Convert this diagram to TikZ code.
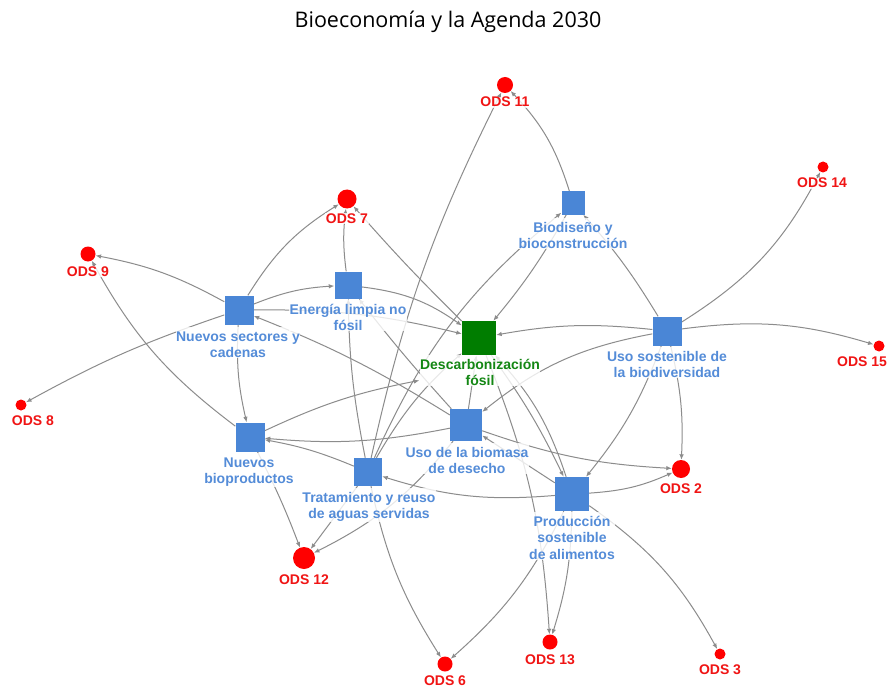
\documentclass[tikz,border=0pt]{standalone}
\usepackage{fontspec}
\usetikzlibrary{arrows.meta}
\newfontfamily\lblfamily{Liberation Sans}
\newfontfamily\titlefamily{Open Sans}
\definecolor{sqblue}{RGB}{74,134,214}
\definecolor{lblblue}{RGB}{84,140,216}
\definecolor{decgreen}{RGB}{0,125,0}
\definecolor{decgreentext}{RGB}{20,135,20}
\definecolor{odsred}{RGB}{255,0,0}
\definecolor{odstext}{RGB}{240,20,20}
\definecolor{edgegray}{RGB}{140,140,140}
% keeps the first line of every label at the same height
\newcommand{\lblstrut}{\rule{0pt}{13.5pt}}
\pgfdeclarelayer{bglayer}
\pgfdeclarelayer{edgelayer}
\pgfsetlayers{bglayer,edgelayer,main}

\begin{document}
\begin{tikzpicture}[x=1pt,y=1pt,
  sq/.style={rectangle, fill=sqblue, minimum size=#1, inner sep=0pt},
  ods/.style={circle, fill=odsred, minimum size=#1, inner sep=0pt},
  lbl/.style={font=\lblfamily\bfseries\fontsize{14}{16.5}\selectfont, text=lblblue,
    align=center, anchor=north, inner sep=0.5pt, fill=white, fill opacity=0.8, text opacity=1},
  odslbl/.style={font=\lblfamily\bfseries\fontsize{14}{16.5}\selectfont, text=odstext,
    anchor=base, inner sep=0.5pt, fill=white, fill opacity=0.8, text opacity=1},
  link/.style={draw=edgegray, line width=1pt, -{Latex[length=5.5pt,width=4.5pt]}},
]
\useasboundingbox (0,0) rectangle (888,-687);
\begin{pgfonlayer}{bglayer}
  \fill[white] (0,0) rectangle (888,-687);
\end{pgfonlayer}

% title
\node[font=\titlefamily\fontsize{21.5}{26}\selectfont, anchor=base, inner sep=0pt] (title) at (448,-28) {Bioeconomía y la Agenda 2030};

% action lines (squares)
\node[sq=23] (biod) at (573,-203) {};
\node[sq=27] (ener) at (348,-285) {};
\node[sq=29] (sect) at (239,-310) {};
\node[sq=34, fill=decgreen] (desc) at (479,-338) {};
\node[sq=29] (usos) at (667,-331) {};
\node[sq=29] (biop) at (250,-437) {};
\node[sq=32] (usob) at (466,-425) {};
\node[sq=28] (trat) at (368,-472) {};
\node[sq=34] (prod) at (572,-494) {};

% goals (circles)
\node[ods=16] (ods11) at (505,-85) {};
\node[ods=19] (ods7) at (347,-199) {};
\node[ods=15] (ods9) at (88,-254) {};
\node[ods=11] (ods14) at (823,-167) {};
\node[ods=11] (ods15) at (879,-346) {};
\node[ods=11] (ods8) at (21,-405) {};
\node[ods=18] (ods2) at (681,-469) {};
\node[ods=22] (ods12) at (304,-558) {};
\node[ods=15] (ods6) at (445,-664) {};
\node[ods=15] (ods13) at (550,-642) {};
\node[ods=11] (ods3) at (720,-654) {};

% labels of the action lines
\node[lbl] (biod-t) at (573,-218) {\lblstrut Biodiseño y\\bioconstrucción};
\node[lbl] (ener-t) at (348,-300) {\lblstrut Energía limpia no\\fósil};
\node[lbl] (sect-t) at (238,-327) {\lblstrut Nuevos sectores y\\cadenas};
\node[lbl, text=decgreentext] (desc-t) at (480,-355) {\lblstrut Descarbonización\\fósil};
\node[lbl] (usos-t) at (667,-347) {\lblstrut Uso sostenible de\\la biodiversidad};
\node[lbl] (biop-t) at (249,-453) {\lblstrut Nuevos\\bioproductos};
\node[lbl] (usob-t) at (467,-443) {\lblstrut Uso de la biomasa\\de desecho};
\node[lbl] (trat-t) at (369,-488) {\lblstrut Tratamiento y reuso\\de aguas servidas};
\node[lbl] (prod-t) at (572,-512) {\lblstrut Producción\\sostenible\\de alimentos};

% labels of the goals
\node[odslbl] (ods11-t) at (505,-107) {ODS 11};
\node[odslbl] (ods7-t) at (347,-223) {ODS 7};
\node[odslbl] (ods9-t) at (88,-276) {ODS 9};
\node[odslbl] (ods14-t) at (822,-188) {ODS 14};
\node[odslbl] (ods15-t) at (862,-366) {ODS 15};
\node[odslbl] (ods8-t) at (33,-425) {ODS 8};
\node[odslbl] (ods2-t) at (681,-493) {ODS 2};
\node[odslbl] (ods12-t) at (304,-584) {ODS 12};
\node[odslbl] (ods6-t) at (445,-685) {ODS 6};
\node[odslbl] (ods13-t) at (550,-664) {ODS 13};
\node[odslbl] (ods3-t) at (720,-674) {ODS 3};

% links
\begin{pgfonlayer}{edgelayer}
\draw[link] (sect) to[bend right=9] (ods9);
\draw[link] (sect) to[bend right=5] (ods8);
\draw[link] (sect) to[bend left=13] (ods7);
\draw[link] (sect) to[bend left=9] (ener);
\draw[link] (sect) to[bend left=7] (desc);
\draw[link] (sect) to[bend right=8] (biop);
\draw[link] (ener) to[bend left=7] (ods7);
\draw[link] (ener) to[bend left=14] (desc);
\draw[link] (desc) to[bend left=2] (ods7);
\draw[link] (trat) to[bend left=7] (ods11);
\draw[link] (biod) to[bend right=13] (ods11);
\draw[link] (usos) to[bend right=5] (biod);
\draw[link] (trat) to[bend left=13] (biod);
\draw[link] (biod) to[bend left=5] (desc);
\draw[link] (usos) to[bend right=8] (desc);
\draw[link] (usos) to[bend right=15] (ods14);
\draw[link] (usos) to[bend left=12] (ods15);
\draw[link] (usos) to[bend right=14] (usob);
\draw[link] (usos) to[bend left=8] (ods2);
\draw[link] (usos) to[bend left=9] (prod);
\draw[link] (biop) to[bend left=12] (ods9);
\draw[link] (biop) to[bend left=7] (desc-t);
\draw[link] (biop) to[bend left=3] (ods12);
\draw[link] (usob) to[bend right=5] (sect);
\draw[link] (usob) to[bend left=2] (ener);
\draw[link] (usob) -- (desc);
\draw[link] (usob) to[bend left=8] (biop);
\draw[link] (usob) to[bend right=8] (ods2);
\draw[link] (usob) to[bend left=12] (ods12);
\draw[link] (trat) to[bend left=9] (desc);
\draw[link] (trat) to[bend left=5] (ener);
\draw[link] (trat) to[bend right=6] (biop);
\draw[link] (trat) -- (ods12);
\draw[link] (trat) to[bend right=10] (ods6);
\draw[link] (prod) to[bend left=11] (trat);
\draw[link] (prod) to[bend right=10] (ods2);
\draw[link] (prod) -- (usob);
\draw[link] (prod) to[bend right=12] (desc);
\draw[link] (desc) to[bend left=5] (prod);
\draw[link] (desc) to[bend left=9] (ods13);
\draw[link] (prod) to[bend left=8] (ods13);
\draw[link] (prod) to[bend left=11] (ods6);
\draw[link] (prod) to[bend left=13] (ods3);
\end{pgfonlayer}
\end{tikzpicture}
\end{document}
